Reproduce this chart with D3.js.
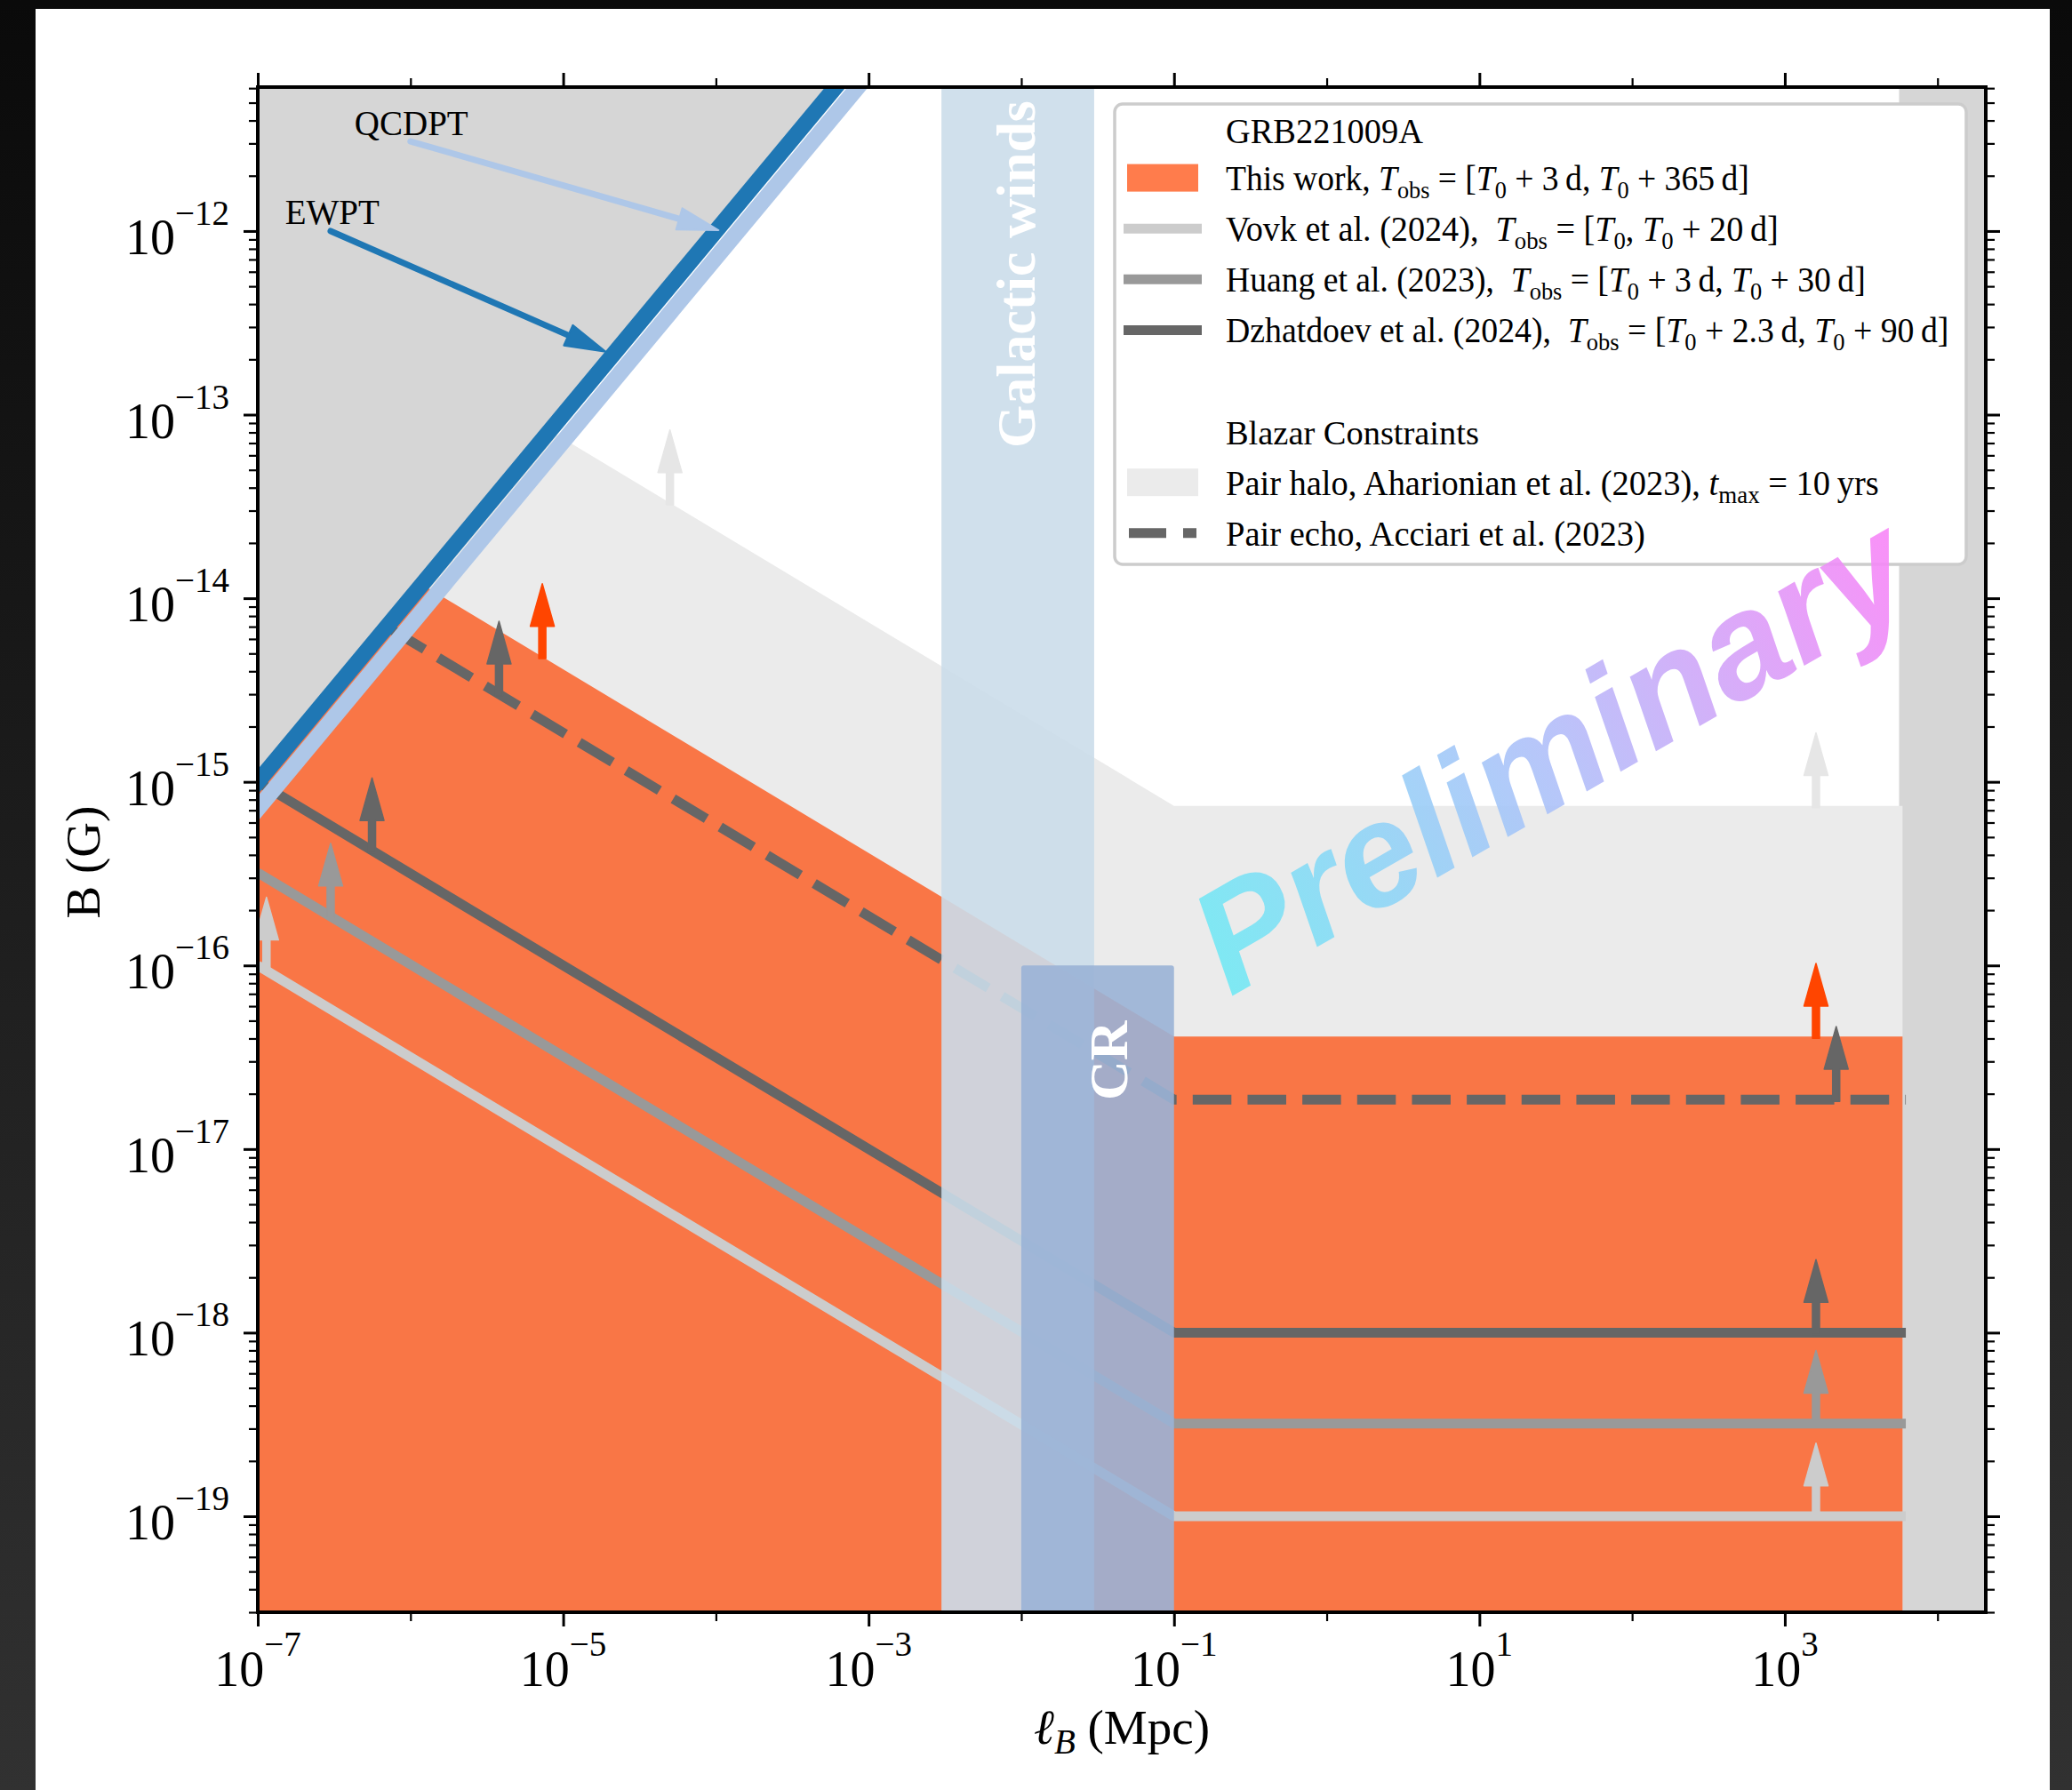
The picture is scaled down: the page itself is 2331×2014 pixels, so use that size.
<!DOCTYPE html>
<html><head><meta charset="utf-8">
<script src="https://cdn.jsdelivr.net/npm/d3@7"></script>
<style>
html,body{margin:0;padding:0;background:#111;}
svg{display:block;}
text{white-space:pre;}
</style></head><body>
<svg id="chart" width="2331" height="2014"></svg>
<script>
// ---------------- data ----------------
const xDomain = [1e-7, 2.07e4];
const yDomain = [3e-20, 6.08e-12];
const xMajorTicks = [1e-7, 1e-5, 1e-3, 1e-1, 1e1, 1e3];
const xTickLabels = ["−7", "−5", "−3", "−1", "1", "3"];
const xMinorTicks = [1e-6, 1e-4, 1e-2, 1e0, 1e2, 1e4];
const yMajorTicks = [1e-19, 1e-18, 1e-17, 1e-16, 1e-15, 1e-14, 1e-13, 1e-12];
const yTickLabels = ["−19", "−18", "−17", "−16", "−15", "−14", "−13", "−12"];

// constraint curves (l in Mpc, B in G)
const lineL      = [1e-7, 0.1, 6.2e3];
const vovkB      = [1e-16, 1e-19, 1e-19];
const huangB     = [3.2e-16, 3.2e-19, 3.2e-19];
const dzhatdoevB = [1e-15, 1e-18, 1e-18];
const echoL      = [7.4e-7, 0.1, 6.2e3];
const echoB      = [6.8e-15, 1.86e-17, 1.86e-17];
const fillL      = [1e-7, 0.1, 5.9e3];
const thisWorkB  = [4.1e-14, 4.1e-17, 4.1e-17];
const haloB      = [7.4e-13, 7.4e-16, 7.4e-16];
const ewptL  = [1e-8, 1e-3];   const ewptB  = [1e-16, 1e-11];
const qcdptL = [1.4e-8, 1.4e-3]; const qcdptB = [1e-16, 1e-11];
const hubbleL = [5.6e3, 2.07e4];
const windsL  = [3e-3, 3e-2];
const crL     = [1e-2, 0.1];
const crBTop  = 1e-16;

// lower-limit arrows
const arrowSeries = ["Vovk","Huang","Dzhatdoev","Pair echo","This work","Pair halo",
                     "This work","Pair echo","Dzhatdoev","Huang","Vovk","Pair halo"];
const arrowL = [1.14e-7, 3e-7, 5.6e-7, 3.8e-6, 7.3e-6, 5e-5, 1.6e3, 2.17e3, 1.6e3, 1.6e3, 1.6e3, 1.6e3];
const arrowB = [9.4e-17, 1.85e-16, 4.2e-16, 3.0e-15, 4.8e-15, 3.3e-14, 4.1e-17, 1.86e-17, 1e-18, 3.2e-19, 1e-19, 7.4e-16];

// annotations
const annLabels = ["QCDPT", "EWPT"];
const annTextL  = [4.3e-7, 1.51e-7];
const annTextB  = [3.33e-12, 1.09e-12];
const annFromL  = [1e-6, 3e-7];
const annFromB  = [3.08e-12, 1e-12];
const annToL    = [1.04e-4, 1.9e-5];
const annToB    = [1.01e-12, 2.2e-13];

// legend
const legendKeys = ["title","This work","Vovk","Huang","Dzhatdoev","blank","title","Pair halo","Pair echo"];
const legendLabels = [
  [["GRB221009A"]],
  [["This work, "],["T","i"],["obs","s"],[" = ["],["T","i"],["0","s"],[" + 3\u2009d, "],["T","i"],["0","s"],[" + 365\u2009d]"]],
  [["Vovk et al. (2024),  "],["T","i"],["obs","s"],[" = ["],["T","i"],["0","s"],[", "],["T","i"],["0","s"],[" + 20\u2009d]"]],
  [["Huang et al. (2023),  "],["T","i"],["obs","s"],[" = ["],["T","i"],["0","s"],[" + 3\u2009d, "],["T","i"],["0","s"],[" + 30\u2009d]"]],
  [["Dzhatdoev et al. (2024),  "],["T","i"],["obs","s"],[" = ["],["T","i"],["0","s"],[" + 2.3\u2009d, "],["T","i"],["0","s"],[" + 90\u2009d]"]],
  [],
  [["Blazar Constraints"]],
  [["Pair halo, Aharionian et al. (2023), "],["t","i"],["max","s"],[" = 10\u2009yrs"]],
  [["Pair echo, Acciari et al. (2023)"]]
];
// measured widths of the legend labels in the reference (px)
const legendWidths = [222, 589, 622, 720, 814, 0, 285, 735, 472];

// ---------------- styles ----------------
const color = {
  "This work":"#ff4500", "Vovk":"#cccccc", "Huang":"#999999",
  "Dzhatdoev":"#666666", "Pair echo":"#666666", "Pair halo":"#e6e6e6"
};
const SERIF = "'Liberation Serif','Times New Roman','DejaVu Serif',serif";
const ARROW_FACTOR = 2.5;

// ---------------- drawing ----------------
const svg = d3.select("#chart");
const defs = svg.append("defs");
const bg = defs.append("linearGradient").attr("id","bg").attr("x1",0).attr("y1",0).attr("x2",0).attr("y2",1);
bg.append("stop").attr("offset",0).attr("stop-color","#0a0a0a");
bg.append("stop").attr("offset",1).attr("stop-color","#313131");
svg.append("rect").attr("width",2331).attr("height",2014).attr("fill","url(#bg)");
svg.append("rect").attr("x",40).attr("y",10).attr("width",2266).attr("height",2004).attr("fill","#ffffff");

const X = d3.scaleLog().domain(xDomain).range([290, 2234]);
const Y = d3.scaleLog().domain(yDomain).range([1814, 98]);
const [px0, px1] = X.range(); const [py1, py0] = Y.range();

defs.append("clipPath").attr("id","plotClip").append("rect")
  .attr("x",px0).attr("y",py0).attr("width",px1-px0).attr("height",py1-py0);
defs.append("clipPath").attr("id","belowEW").append("polygon")
  .attr("points",[[X(ewptL[0]),Y(ewptB[0])],[X(ewptL[1]),Y(ewptB[1])],[4000,Y(ewptB[1])],[4000,4000],[X(ewptL[0]),4000]].map(p=>p.join(",")).join(" "));

const plot = svg.append("g").attr("clip-path","url(#plotClip)");

// excluded region above EWPT
plot.append("polygon")
  .attr("points",[[X(ewptL[0]),Y(ewptB[0])],[X(ewptL[1]),Y(ewptB[1])],[X(ewptL[0]),Y(ewptB[1])]].map(p=>p.join(",")).join(" "))
  .attr("fill","#d6d6d6");
// Hubble band
plot.append("rect").attr("x",X(hubbleL[0])).attr("y",py0).attr("width",X(hubbleL[1])-X(hubbleL[0])).attr("height",py1-py0).attr("fill","#d6d6d6");

const below = plot.append("g").attr("clip-path","url(#belowEW)");
const area = d3.area().x(d=>X(d[0])).y0(py1+10).y1(d=>Y(d[1]));
below.append("path").attr("d",area(fillL.map((l,i)=>[l,haloB[i]]))).attr("fill","#ebebeb");
below.append("path").attr("d",area(fillL.map((l,i)=>[l,thisWorkB[i]]))).attr("fill","#ff4500").attr("fill-opacity",0.7);

const line = d3.line().x(d=>X(d[0])).y(d=>Y(d[1]));
[["Vovk",lineL,vovkB],["Huang",lineL,huangB],["Dzhatdoev",lineL,dzhatdoevB]].forEach(([k,L,B])=>{
  plot.append("path").attr("d",line(L.map((l,i)=>[l,B[i]]))).attr("fill","none")
    .attr("stroke",color[k]).attr("stroke-width",11).attr("stroke-linejoin","round");
});
plot.append("path").attr("d",line(echoL.map((l,i)=>[l,echoB[i]]))).attr("fill","none")
  .attr("stroke",color["Pair echo"]).attr("stroke-width",11)
  .attr("stroke-dasharray","43.5,18.16").attr("stroke-dashoffset",60.6);

// arrows
function upArrow(g, x, yb, yt, c){
  const hl=48, hw=13.5, sw=4;
  g.append("path").attr("d",`M${x-sw},${yb} L${x-sw},${yt+hl} L${x-hw},${yt+hl} L${x},${yt} L${x+hw},${yt+hl} L${x+sw},${yt+hl} L${x+sw},${yb} Z`)
    .attr("fill",c).attr("stroke",c).attr("stroke-width",1.5).attr("stroke-linejoin","round");
}
arrowL.forEach((l,i)=>{
  upArrow(plot, X(l), Y(arrowB[i])+2, Y(arrowB[i]*ARROW_FACTOR), color[arrowSeries[i]]);
});

// phase-transition lines
plot.append("path").attr("d",line(qcdptL.map((l,i)=>[l,qcdptB[i]]))).attr("stroke","#aec7e8").attr("stroke-width",18).attr("fill","none");
plot.append("path").attr("d",line(ewptL.map((l,i)=>[l,ewptB[i]]))).attr("stroke","#1f77b4").attr("stroke-width",18).attr("fill","none");

// galactic winds and CR bands
plot.append("rect").attr("x",X(windsL[0])).attr("y",py0).attr("width",X(windsL[1])-X(windsL[0])).attr("height",py1-py0)
  .attr("fill","rgb(203,221,234)").attr("fill-opacity",0.9);
plot.append("rect").attr("x",X(crL[0])).attr("y",Y(crBTop)).attr("width",X(crL[1])-X(crL[0])).attr("height",py1-Y(crBTop)+10)
  .attr("rx",3).attr("fill","rgb(154,178,214)").attr("fill-opacity",0.9);

const gwX = (X(windsL[0])+X(windsL[1]))/2 + 19;
plot.append("text").attr("transform",`translate(${gwX},${py0+15}) rotate(-90)`).attr("text-anchor","end")
  .attr("font-family",SERIF).attr("font-weight","bold").attr("font-size",62).attr("fill","#ffffff").text("Galactic winds");
plot.append("text").attr("transform",`translate(${X(crL[1])-53},${Y(crBTop)+107}) rotate(-90)`).attr("text-anchor","middle")
  .attr("font-family",SERIF).attr("font-weight","bold").attr("font-size",62).attr("fill","#ffffff").text("CR");

// annotations
const annColors = ["#aec7e8","#1f77b4"];
annLabels.forEach((t,i)=>{
  plot.append("text").attr("x",X(annTextL[i])).attr("y",Y(annTextB[i])).attr("font-family",SERIF).attr("font-size",39).attr("fill","#000").text(t);
  const x0=X(annFromL[i]), y0=Y(annFromB[i]), x1=X(annToL[i]), y1=Y(annToB[i]);
  const dx=x1-x0, dy=y1-y0, len=Math.hypot(dx,dy), ux=dx/len, uy=dy/len;
  const hl=46, hw=12.5;
  const bx=x1-ux*hl, by=y1-uy*hl;
  plot.append("line").attr("x1",x0).attr("y1",y0).attr("x2",bx+ux*4).attr("y2",by+uy*4)
    .attr("stroke",annColors[i]).attr("stroke-width",7).attr("stroke-linecap","round");
  plot.append("path").attr("d",`M${x1},${y1} L${bx-uy*hw},${by+ux*hw} L${bx+uy*hw},${by-ux*hw} Z`)
    .attr("fill",annColors[i]).attr("stroke",annColors[i]).attr("stroke-width",2).attr("stroke-linejoin","round");
});

// ---------------- legend ----------------
const lg = svg.append("g");
lg.append("rect").attr("x",1254).attr("y",117).attr("width",958).attr("height",518).attr("rx",9)
  .attr("fill","#ffffff").attr("stroke","#cccccc").attr("stroke-width",3.5);
function richText(t, segs, fs){
  let shift=0;
  segs.forEach(([s,st])=>{
    const target = st==="s" ? 9 : 0;
    const ts = t.append("tspan").attr("dy",target-shift).text(s);
    if(st==="s") ts.attr("font-size",fs*0.7);
    if(st==="i") ts.attr("font-style","italic");
    shift=target;
  });
}
const LX = 1379;
legendKeys.forEach((k,i)=>{
  const by = 157 + i*57.1 + (i===0 ? 4 : 0);
  const cy = 157 + i*57.1 - 14;
  if(k==="This work"){
    lg.append("rect").attr("x",1268).attr("y",cy-15.5).attr("width",80).attr("height",31).attr("fill","#ff4500").attr("fill-opacity",0.7);
  } else if(k==="Pair halo"){
    lg.append("rect").attr("x",1268).attr("y",cy-15.5).attr("width",80).attr("height",31).attr("fill","#ebebeb");
  } else if(k==="Pair echo"){
    lg.append("line").attr("x1",1270).attr("x2",1346).attr("y1",cy).attr("y2",cy).attr("stroke",color[k]).attr("stroke-width",11).attr("stroke-dasharray","42,19");
  } else if(k!=="title" && k!=="blank"){
    lg.append("line").attr("x1",1264).attr("x2",1352).attr("y1",cy).attr("y2",cy).attr("stroke",color[k]).attr("stroke-width",11);
  }
  if(legendLabels[i].length){
    const t = lg.append("text").attr("x",LX).attr("y",by).attr("font-family",SERIF).attr("font-size",39).attr("fill","#000");
    richText(t, legendLabels[i], 39);
    const w = t.node().getComputedTextLength();
    const s = Math.min(1.02, Math.max(0.9, legendWidths[i]/w));
    t.attr("transform",`translate(${LX},0) scale(${s},1) translate(${-LX},0)`);
  }
});

// ---------------- watermark ----------------
const wg = defs.append("linearGradient").attr("id","wm").attr("x1",0).attr("y1",0).attr("x2",1).attr("y2",0);
wg.append("stop").attr("offset",0).attr("stop-color","#72e9f4");
wg.append("stop").attr("offset",0.5).attr("stop-color","#b1bff9");
wg.append("stop").attr("offset",1).attr("stop-color","#f985f7");
svg.append("text").attr("transform","translate(1384,1122) rotate(-30)")
  .attr("font-family","'Liberation Sans',Arial,sans-serif").attr("font-weight","bold").attr("font-style","italic")
  .attr("font-size",165).attr("fill","url(#wm)").attr("fill-opacity",0.9).text("Preliminary");

// ---------------- axes ----------------
function styleAxis(g, w){ g.select(".domain").remove(); g.selectAll(".tick line").attr("stroke","#000").attr("stroke-width",w); }
const yMinor = Y.ticks().filter(v=>Math.abs(Math.log10(v)-Math.round(Math.log10(v)))>1e-6);
svg.append("g").attr("transform",`translate(0,${py1})`).call(d3.axisBottom(X).tickValues(xMajorTicks).tickSize(16).tickFormat("")).call(g=>styleAxis(g,3));
svg.append("g").attr("transform",`translate(0,${py1})`).call(d3.axisBottom(X).tickValues(xMinorTicks).tickSize(10).tickFormat("")).call(g=>styleAxis(g,2.2));
svg.append("g").attr("transform",`translate(0,${py0})`).call(d3.axisTop(X).tickValues(xMajorTicks).tickSize(16).tickFormat("")).call(g=>styleAxis(g,3));
svg.append("g").attr("transform",`translate(0,${py0})`).call(d3.axisTop(X).tickValues(xMinorTicks).tickSize(10).tickFormat("")).call(g=>styleAxis(g,2.2));
svg.append("g").attr("transform",`translate(${px0},0)`).call(d3.axisLeft(Y).tickValues(yMajorTicks).tickSize(16).tickFormat("")).call(g=>styleAxis(g,3));
svg.append("g").attr("transform",`translate(${px0},0)`).call(d3.axisLeft(Y).tickValues(yMinor).tickSize(10).tickFormat("")).call(g=>styleAxis(g,2.2));
svg.append("g").attr("transform",`translate(${px1},0)`).call(d3.axisRight(Y).tickValues(yMajorTicks).tickSize(16).tickFormat("")).call(g=>styleAxis(g,3));
svg.append("g").attr("transform",`translate(${px1},0)`).call(d3.axisRight(Y).tickValues(yMinor).tickSize(10).tickFormat("")).call(g=>styleAxis(g,2.2));
svg.append("rect").attr("x",px0).attr("y",py0).attr("width",px1-px0).attr("height",py1-py0).attr("fill","none").attr("stroke","#000").attr("stroke-width",4);

// tick labels
xMajorTicks.forEach((v,i)=>{
  const t = svg.append("text").attr("x",X(v)).attr("y",py1+83).attr("text-anchor","middle").attr("font-family",SERIF).attr("font-size",56);
  t.append("tspan").text("10");
  t.append("tspan").attr("dy",-34).attr("font-size",39).text(xTickLabels[i]);
});
yMajorTicks.forEach((v,i)=>{
  const t = svg.append("text").attr("x",258).attr("y",Y(v)+26).attr("text-anchor","end").attr("font-family",SERIF).attr("font-size",56);
  t.append("tspan").text("10");
  t.append("tspan").attr("dy",-33).attr("font-size",39).text(yTickLabels[i]);
});

// axis titles
const xl = svg.append("text").attr("x",(px0+px1)/2).attr("y",1962).attr("text-anchor","middle").attr("font-family",SERIF).attr("font-size",55);
xl.append("tspan").attr("font-style","italic").text("ℓ");
xl.append("tspan").attr("font-style","italic").attr("font-size",39).attr("dy",11).text("B");
xl.append("tspan").attr("dy",-11).text(" (Mpc)");
svg.append("text").attr("transform",`translate(112,${(py0+py1)/2 + 14}) rotate(-90)`).attr("text-anchor","middle")
  .attr("font-family",SERIF).attr("font-size",55).text("B (G)");
</script>
</body></html>
